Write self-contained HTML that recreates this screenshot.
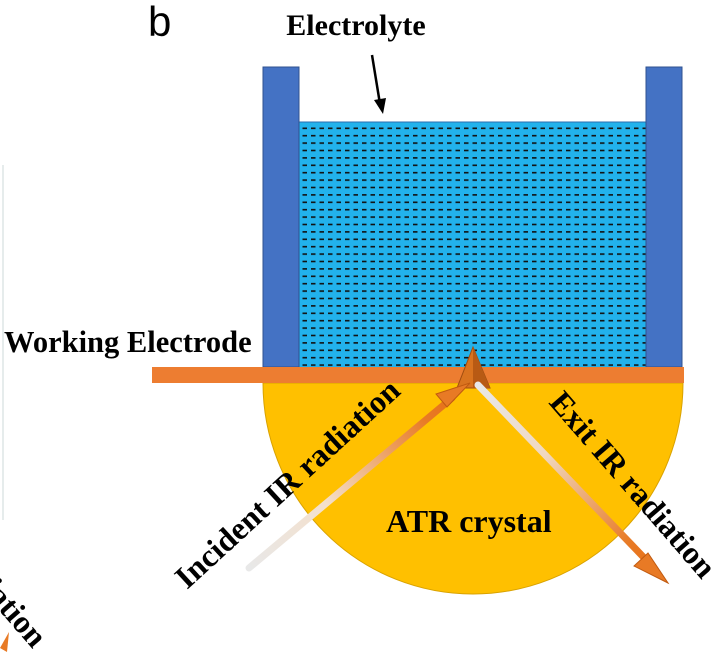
<!DOCTYPE html>
<html><head><meta charset="utf-8"><style>
html,body{margin:0;padding:0;background:#fff;}
svg{display:block;}
.t{font-family:"Liberation Serif",serif;font-weight:bold;fill:#000;}
</style></head><body>
<svg width="723" height="659" viewBox="0 0 723 659" xmlns="http://www.w3.org/2000/svg">
<defs>
<pattern id="dash" x="301" y="125" width="8.5" height="7.4" patternUnits="userSpaceOnUse">
<rect width="8.5" height="7.4" fill="#22b2ec"/>
<rect x="1.5" y="2.5" width="4.5" height="1.6" fill="#111"/>
</pattern>
<linearGradient id="g1" x1="248" y1="568" x2="470" y2="383" gradientUnits="userSpaceOnUse">
<stop offset="0" stop-color="#e8e8e8"/><stop offset="0.35" stop-color="#f4e0cc"/><stop offset="0.8" stop-color="#e87a25"/><stop offset="1" stop-color="#e66b10"/>
</linearGradient>
<linearGradient id="g2" x1="478" y1="385" x2="668" y2="583" gradientUnits="userSpaceOnUse">
<stop offset="0" stop-color="#e8e8e8"/><stop offset="0.35" stop-color="#f0d8c0"/><stop offset="0.8" stop-color="#e87a25"/><stop offset="1" stop-color="#e66b10"/>
</linearGradient>
</defs>
<line x1="3" y1="165" x2="3" y2="520" stroke="#e6ecec" stroke-width="2"/>
<text x="148" y="36" font-family="Liberation Sans,sans-serif" font-size="42" fill="#000">b</text>
<text class="t" x="356" y="35" font-size="30" text-anchor="middle">Electrolyte</text>
<line x1="372" y1="55" x2="380" y2="104" stroke="#000" stroke-width="2.5"/>
<polygon points="374,100 386,98 383,114" fill="#000"/>
<rect x="299" y="122" width="347" height="246" fill="url(#dash)" stroke="#2a6fb0" stroke-width="1"/>
<rect x="263" y="67" width="36" height="300" fill="#4472c4" stroke="#2f528f" stroke-width="1"/>
<rect x="646" y="67" width="36" height="300" fill="#4472c4" stroke="#2f528f" stroke-width="1"/>
<path d="M263,383 A210,211 0 0 0 683,383 Z" fill="#ffc000" stroke="#d9a200" stroke-width="1"/>
<rect x="152" y="367" width="532" height="16" fill="#ed7d31"/>
<text class="t" x="4" y="352" font-size="30.5">Working Electrode</text>
<polygon points="473,347 457,388 490,388" fill="#d9731f" stroke="#a04d10" stroke-width="1"/>
<polygon points="473,347 473,388 490,388" fill="#b85a14"/>
<line x1="249" y1="568" x2="452" y2="398" stroke="url(#g1)" stroke-width="7" stroke-linecap="round"/>
<polygon points="470,383 436,394 447,407" fill="#e87a25" stroke="#c05a10" stroke-width="1"/>
<line x1="478" y1="385" x2="652" y2="566" stroke="url(#g2)" stroke-width="7" stroke-linecap="round"/>
<polygon points="668,583 634,566 648,553" fill="#e87a25" stroke="#c05a10" stroke-width="1"/>
<text class="t" x="386" y="532" font-size="32">ATR crystal</text>
<text class="t" font-size="32" transform="translate(187,590) rotate(-42.5)">Incident IR radiation</text>
<text class="t" font-size="32" transform="translate(548,403) rotate(49)">Exit IR radiation</text>
<text class="t" font-size="32" transform="translate(-50,554) rotate(49)">radiation</text>
<polygon points="0,648 9,632 7,652" fill="#e87a25"/>
</svg>
</body></html>
